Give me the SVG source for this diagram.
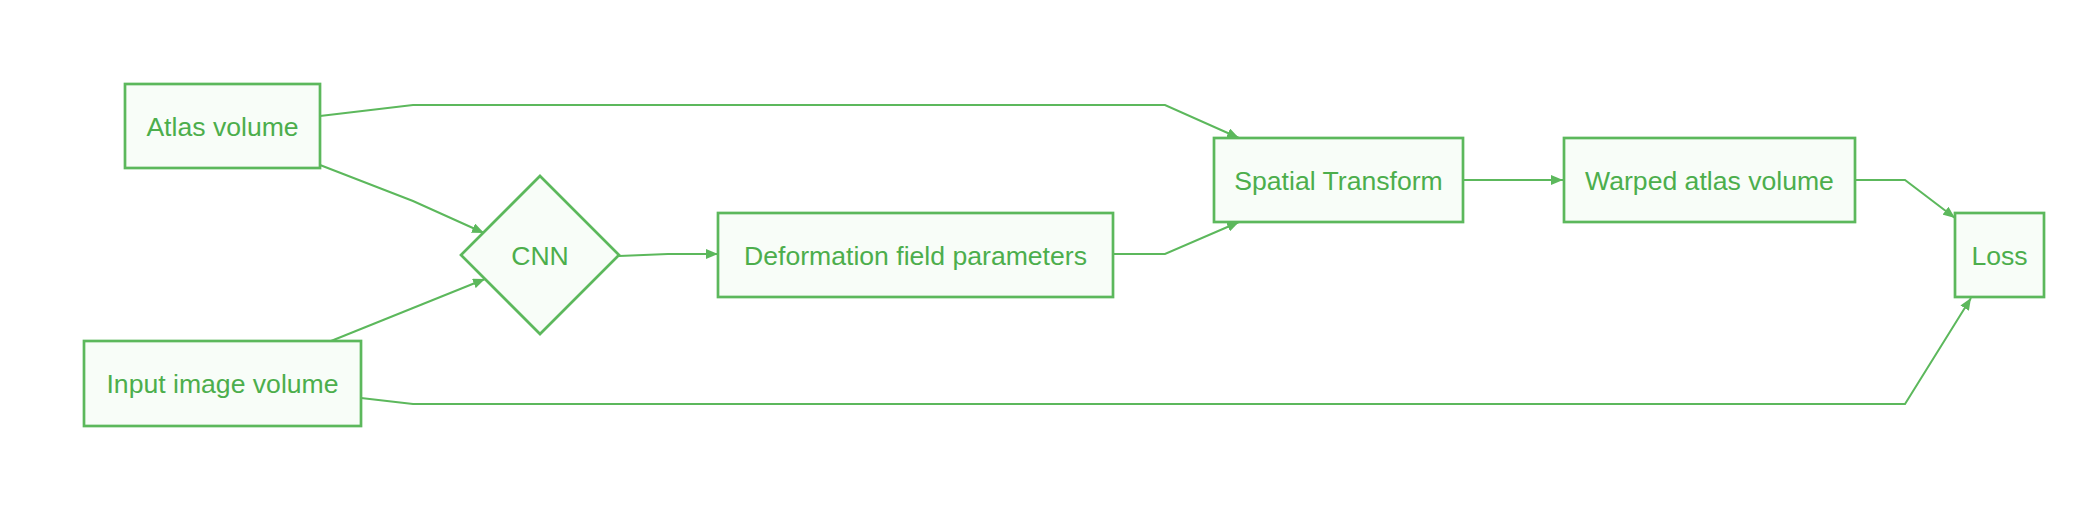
<svg xmlns="http://www.w3.org/2000/svg" width="2088" height="514" viewBox="0 0 2088 514">
<defs>
<style>
.node rect, .node polygon { fill: #f8fdf8; stroke: #5cb85c; stroke-width: 2.7; }
.node text { font-family: "Liberation Sans", Arial, sans-serif; font-size: 26.6px; fill: #4cae4c; text-anchor: middle; }
.edges path { fill: none; stroke: #5cb85c; stroke-width: 2; marker-end: url(#arrow); }
</style>
<marker id="arrow" viewBox="0 0 12 10" refX="12" refY="5" markerWidth="12" markerHeight="10" markerUnits="userSpaceOnUse" orient="auto">
<path d="M0,0 L12,5 L0,10 z" fill="#5cb85c"/>
</marker>
</defs>
<rect width="2088" height="514" fill="#ffffff"/>
<g class="edges" id="connectors">
<path d="M320,116 L413,105 L1165,105 L1239,138"/>
<path d="M320,165 L413,201 L484,233"/>
<path d="M331,341 L485,279"/>
<path d="M619,256 L668,254 L718,254"/>
<path d="M1113,254 L1165,254 L1239,222"/>
<path d="M1463,180 L1563,180"/>
<path d="M1855,180 L1905,180 L1955,218"/>
<path d="M361,398 L413,404 L1905,404 L1971,298"/>
</g>
<g class="node" id="atlas"><rect x="125" y="84" width="195" height="84"/><text x="222.5" y="136">Atlas volume</text></g>
<g class="node" id="input"><rect x="84" y="341" width="277" height="85"/><text x="222.5" y="393">Input image volume</text></g>
<g class="node" id="cnn"><polygon points="540,176 619,255 540,334 461,255"/><text x="540" y="264.5">CNN</text></g>
<g class="node" id="deform"><rect x="718" y="213" width="395" height="84"/><text x="915.5" y="264.5">Deformation field parameters</text></g>
<g class="node" id="spatial"><rect x="1214" y="138" width="249" height="84"/><text x="1338.5" y="189.5">Spatial Transform</text></g>
<g class="node" id="warped"><rect x="1564" y="138" width="291" height="84"/><text x="1709.5" y="189.5">Warped atlas volume</text></g>
<g class="node" id="loss"><rect x="1955" y="213" width="89" height="84"/><text x="1999.5" y="264.5">Loss</text></g>
</svg>
